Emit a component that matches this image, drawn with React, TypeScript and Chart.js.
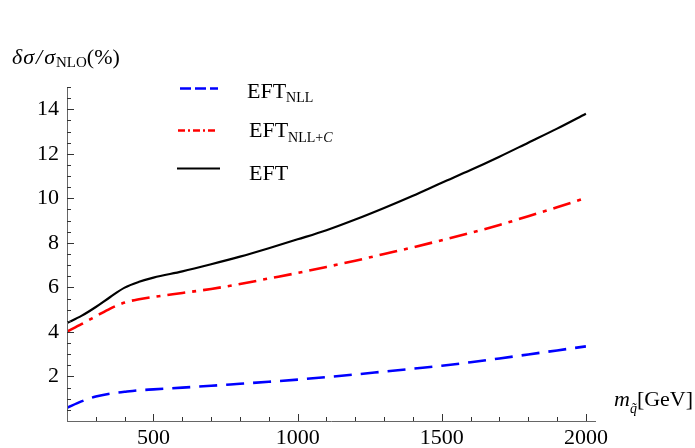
import React, { useEffect, useRef } from "react";
import { Chart, registerables } from "chart.js";

Chart.register(...registerables);

const massValues = [200, 250, 300, 350, 400, 450, 500, 600, 700, 800, 900, 1000, 1100, 1200, 1300, 1400, 1500, 1600, 1700, 1800, 1900, 2000];
const eftNLL = [0.59, 0.88, 1.10, 1.23, 1.31, 1.38, 1.42, 1.50, 1.58, 1.67, 1.76, 1.86, 1.97, 2.09, 2.22, 2.35, 2.48, 2.64, 2.81, 2.99, 3.17, 3.35];
const eftNLLC = [4.02, 4.35, 4.70, 5.05, 5.32, 5.47, 5.57, 5.75, 5.93, 6.15, 6.40, 6.65, 6.92, 7.20, 7.50, 7.80, 8.12, 8.45, 8.80, 9.20, 9.60, 10.02];
const eftFull = [4.40, 4.72, 5.12, 5.57, 5.99, 6.25, 6.44, 6.72, 7.04, 7.38, 7.76, 8.16, 8.57, 9.05, 9.57, 10.12, 10.70, 11.27, 11.87, 12.50, 13.13, 13.80];

const xMajorTicks = [500, 1000, 1500, 2000];
const yMajorTicks = [2, 4, 6, 8, 10, 12, 14];

const SERIF = "'Liberation Serif', 'Times New Roman', serif";

type Seg = { text: string; size: number; italic?: boolean; dy?: number; gap?: number };

function drawRich(ctx: CanvasRenderingContext2D, x: number, y: number, segs: Seg[]) {
  let cx = x;
  ctx.textAlign = "left";
  ctx.textBaseline = "alphabetic";
  ctx.fillStyle = "#000";
  for (const s of segs) {
    ctx.font = `${s.italic ? "italic " : ""}${s.size}px ${SERIF}`;
    ctx.fillText(s.text, cx, y + (s.dy || 0));
    cx += ctx.measureText(s.text).width + (s.gap || 0);
  }
}

const decorPlugin = {
  id: "decor",
  afterDraw(chart: any) {
    const ctx = chart.ctx as CanvasRenderingContext2D;
    const xs = chart.scales.x;
    const ys = chart.scales.y;
    const area = chart.chartArea;
    ctx.save();
    // axes
    ctx.strokeStyle = "#666";
    ctx.lineWidth = 1;
    ctx.setLineDash([]);
    ctx.beginPath();
    ctx.moveTo(area.left, area.bottom + 0.5);
    ctx.lineTo(area.right, area.bottom + 0.5);
    ctx.moveTo(area.left + 0.5, area.top);
    ctx.lineTo(area.left + 0.5, area.bottom);
    ctx.stroke();
    // ticks
    ctx.strokeStyle = "#333";
    ctx.beginPath();
    for (let v = 300; v <= 2000; v += 100) {
      const px = Math.round(xs.getPixelForValue(v)) + 0.5;
      const len = xMajorTicks.includes(v) ? 7 : 4;
      ctx.moveTo(px, area.bottom);
      ctx.lineTo(px, area.bottom - len);
    }
    for (let v = 0.5; v <= 15; v += 0.5) {
      const py = Math.round(ys.getPixelForValue(v)) + 0.5;
      const len = yMajorTicks.includes(v) ? 7 : 4;
      ctx.moveTo(area.left, py);
      ctx.lineTo(area.left + len, py);
    }
    ctx.stroke();

    // legend
    const legend = [
      { color: "#0000ff", dash: [11, 4], x0: 180, x1: 218, y: 88.5, w: 2.6 },
      { color: "#ff0000", dash: [7, 3, 2, 3], x0: 178, x1: 218, y: 130.5, w: 2.6 },
      { color: "#000000", dash: [], x0: 177, x1: 220, y: 168.5, w: 2.2 },
    ];
    for (const l of legend) {
      ctx.strokeStyle = l.color;
      ctx.lineWidth = l.w;
      ctx.setLineDash(l.dash);
      ctx.beginPath();
      ctx.moveTo(l.x0, l.y);
      ctx.lineTo(l.x1, l.y);
      ctx.stroke();
    }
    ctx.setLineDash([]);
    drawRich(ctx, 247, 98, [
      { text: "EFT", size: 22 },
      { text: "NLL", size: 14, dy: 4 },
    ]);
    drawRich(ctx, 249, 137, [
      { text: "EFT", size: 22 },
      { text: "NLL+", size: 14, dy: 5 },
      { text: "C", size: 14, italic: true, dy: 5 },
    ]);
    drawRich(ctx, 249, 180, [{ text: "EFT", size: 22 }]);

    // axis titles
    drawRich(ctx, 12, 64, [
      { text: "δ", size: 22, italic: true, gap: 1 },
      { text: "σ", size: 22, italic: true, gap: 2 },
      { text: "/", size: 22, italic: true, gap: 2 },
      { text: "σ", size: 22, italic: true, gap: 1 },
      { text: "NLO", size: 15, dy: 3 },
      { text: "(%)", size: 22 },
    ]);
    drawRich(ctx, 614, 406, [
      { text: "m", size: 22, italic: true },
      { text: "q\u0303", size: 14, italic: true, dy: 7 },
      { text: "[GeV]", size: 22 },
    ]);
    ctx.restore();
  },
};

export default function App() {
  const ref = useRef<HTMLCanvasElement | null>(null);
  useEffect(() => {
    if (!ref.current) return;
    const pts = (ys: number[]) => massValues.map((x, i) => ({ x, y: ys[i] }));
    const chart = new Chart(ref.current, {
      type: "line",
      data: {
        datasets: [
          {
            label: "EFT_NLL",
            data: pts(eftNLL),
            borderColor: "#0000ff",
            borderWidth: 2.6,
            borderDash: [18, 9],
            pointRadius: 0,
            cubicInterpolationMode: "monotone",
          },
          {
            label: "EFT_NLL+C",
            data: pts(eftNLLC),
            borderColor: "#ff0000",
            borderWidth: 2.6,
            borderDash: [18, 7, 4, 7],
            pointRadius: 0,
            cubicInterpolationMode: "monotone",
          },
          {
            label: "EFT",
            data: pts(eftFull),
            borderColor: "#000000",
            borderWidth: 2.2,
            pointRadius: 0,
            cubicInterpolationMode: "monotone",
          },
        ],
      },
      options: {
        responsive: false,
        animation: false,
        layout: { padding: { top: 87, right: 99, left: 0, bottom: 0 } },
        plugins: { legend: { display: false }, tooltip: { enabled: false } },
        scales: {
          x: {
            type: "linear",
            min: 200,
            max: 2035,
            afterFit: (s: any) => {
              s.height = 27;
            },
            grid: { display: false, drawTicks: false },
            border: { display: false },
            afterBuildTicks: (s: any) => {
              s.ticks = xMajorTicks.map((v) => ({ value: v }));
            },
            ticks: {
              autoSkip: false,
              maxRotation: 0,
              padding: 4,
              color: "#000",
              font: { family: SERIF, size: 22 },
              callback: (v: any) => String(v),
            },
          },
          y: {
            type: "linear",
            min: 0,
            max: 15,
            afterFit: (s: any) => {
              s.width = 67;
            },
            grid: { display: false, drawTicks: false },
            border: { display: false },
            afterBuildTicks: (s: any) => {
              s.ticks = yMajorTicks.map((v) => ({ value: v }));
            },
            ticks: {
              autoSkip: false,
              padding: 8,
              color: "#000",
              font: { family: SERIF, size: 22 },
              callback: (v: any) => String(v),
            },
          },
        },
      },
      plugins: [decorPlugin],
    });
    return () => chart.destroy();
  }, []);
  return (
    <div style={{ position: "absolute", left: 0, top: 0, width: 695, height: 448, background: "#fff" }}>
      <canvas ref={ref} width={695} height={448} />
    </div>
  );
}
